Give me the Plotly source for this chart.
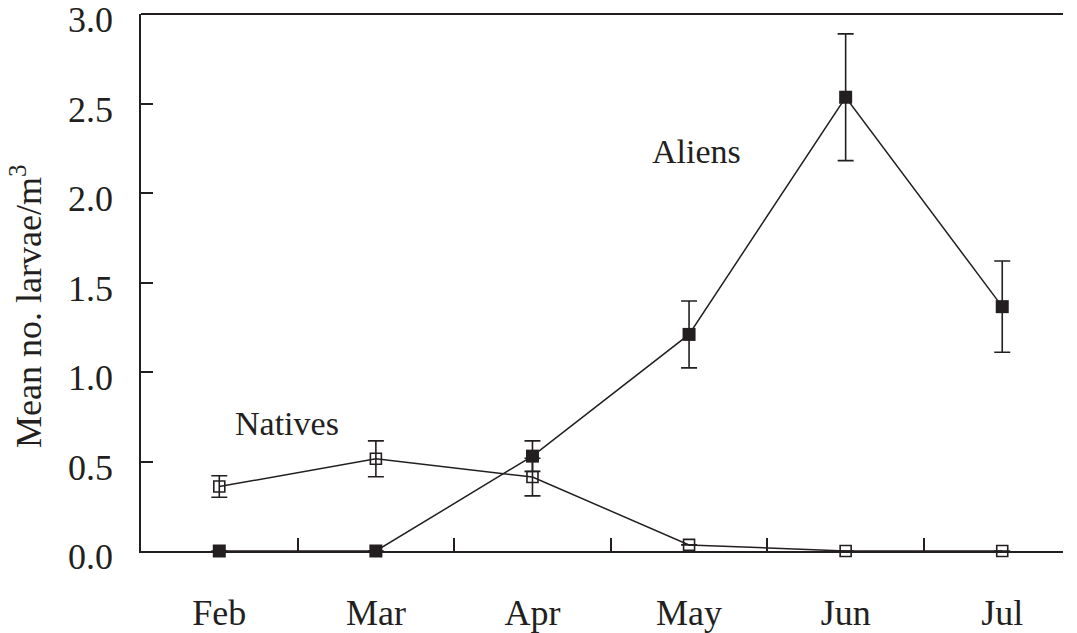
import plotly.graph_objects as go

months = ["Feb", "Mar", "Apr", "May", "Jun", "Jul"]
aliens = [0.0, 0.0, 0.53, 1.21, 2.535, 1.365]
aliens_err = [0, 0, 0.085, 0.187, 0.354, 0.255]
natives = [0.36, 0.515, 0.413, 0.034, 0.0, 0.0]
natives_err = [0.06, 0.1, 0.105, 0, 0, 0]
y_ticks = [0.0, 0.5, 1.0, 1.5, 2.0, 2.5, 3.0]
y_tick_text = ["0.0", "0.5", "1.0", "1.5", "2.0", "2.5", "3.0"]

INK = "#231f20"
FONT = "Liberation Serif"
FS = 36

fig = go.Figure()

fig.add_trace(go.Scatter(
    x=months, y=natives, mode="lines+markers", name="Natives",
    line=dict(color=INK, width=1.5),
    marker=dict(symbol="square-open", size=11, color=INK, line=dict(width=1.6, color=INK)),
    error_y=dict(type="data", array=natives_err,
                 visible=True, color=INK, thickness=1.6, width=8),
    cliponaxis=False,
))

fig.add_trace(go.Scatter(
    x=months, y=aliens, mode="lines+markers", name="Aliens",
    line=dict(color=INK, width=1.5),
    marker=dict(symbol="square", size=13, color=INK),
    error_y=dict(type="data", array=aliens_err,
                 visible=True, color=INK, thickness=1.6, width=8),
    cliponaxis=False,
))

fig.add_annotation(x=3.05, y=2.23, xref="x", yref="y", text="Aliens", showarrow=False,
                   xanchor="center", yanchor="middle",
                   font=dict(family=FONT, size=FS - 2, color=INK))
fig.add_annotation(x=0.43, y=0.71, xref="x", yref="y", text="Natives", showarrow=False,
                   xanchor="center", yanchor="middle",
                   font=dict(family=FONT, size=FS - 2, color=INK))

# y tick labels, placed through the y scale (they sit a few px below their ticks in the reference)
for v, t in zip(y_ticks, y_tick_text):
    fig.add_annotation(x=0, y=v, xref="paper", yref="y", text=t, showarrow=False,
                       xanchor="right", yanchor="middle", xshift=-26, yshift=-6,
                       font=dict(family=FONT, size=FS, color=INK))

# y-axis title as a rotated annotation (sits a little below the axis centre in the reference)
fig.add_annotation(x=(26 - 141) / 922, y=(551 - 306) / 537, xref="paper", yref="paper",
                   text="Mean no. larvae/m<sup>3</sup>", textangle=-90, showarrow=False,
                   xanchor="center", yanchor="middle",
                   font=dict(family=FONT, size=FS, color=INK))

fig.update_layout(
    width=1077, height=633,
    margin=dict(l=141, r=14, t=14, b=82, autoexpand=False),
    plot_bgcolor="white", paper_bgcolor="white",
    showlegend=False,
    font=dict(family=FONT, size=FS, color=INK),
)

fig.update_xaxes(
    type="category", categoryorder="array", categoryarray=months,
    range=[-0.5, 5.388], tickson="boundaries",
    ticks="inside", ticklen=13, tickwidth=1.5, tickcolor=INK,
    showline=True, linecolor=INK, linewidth=2, mirror=False,
    showgrid=False, zeroline=False, automargin=False,
    ticklabelstandoff=29, ticklabeloverflow="allow",
    tickfont=dict(family=FONT, size=FS, color=INK),
)
fig.update_yaxes(
    range=[0, 3.0], tickvals=y_ticks, showticklabels=False,
    ticks="inside", ticklen=12, tickwidth=1.5, tickcolor=INK,
    showline=True, linecolor=INK, linewidth=2,
    showgrid=False, zeroline=False, automargin=False,
)

# top border line (no ticks)
fig.add_shape(type="line", xref="paper", yref="paper", x0=0, x1=1, y0=1, y1=1,
              line=dict(color=INK, width=2))

fig.write_html("out.html", post_script="document.body.style.margin='0';",
               config={"displayModeBar": False})
